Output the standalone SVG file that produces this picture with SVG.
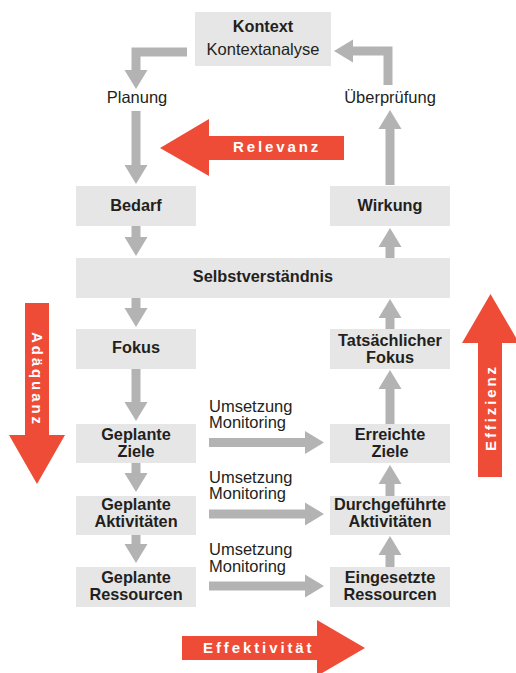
<svg xmlns="http://www.w3.org/2000/svg" width="516" height="673" viewBox="0 0 516 673">
  <style>
    .box { fill: #e6e6e6; }
    .lbl { font-family: "Liberation Sans", Arial, sans-serif; font-size: 16.3px; font-weight: bold; fill: #231f20; text-anchor: middle; }
    .txt { font-family: "Liberation Sans", Arial, sans-serif; font-size: 16.5px; fill: #231f20; }
    .mid { text-anchor: middle; }
    .flow { fill: none; stroke: #b3b3b3; stroke-width: 9; marker-end: url(#head); }
    .big { fill: #ee4c36; }
    .bigtxt { font-family: "Liberation Sans", Arial, sans-serif; font-size: 15px; font-weight: bold; fill: #ffffff; letter-spacing: 2.9px; }
  </style>
  <defs>
    <marker id="head" markerUnits="userSpaceOnUse" markerWidth="21" markerHeight="23" refX="2" refY="11.5" orient="auto" overflow="visible">
      <path d="M0,0 L19,11.5 L0,23 Z" fill="#b3b3b3"/>
    </marker>
  </defs>

  <!-- grey flow arrows -->
  <g id="connectors">
    <polyline class="flow" points="187,52 136,52 136,72"/>
    <line class="flow" x1="136" y1="111" x2="136" y2="167"/>
    <line class="flow" x1="136" y1="226" x2="136" y2="239"/>
    <line class="flow" x1="136" y1="298" x2="136" y2="310"/>
    <line class="flow" x1="136" y1="369" x2="136" y2="404"/>
    <line class="flow" x1="136" y1="463" x2="136" y2="475"/>
    <line class="flow" x1="136" y1="535" x2="136" y2="546"/>

    <line class="flow" x1="390" y1="567" x2="390" y2="553"/>
    <line class="flow" x1="390" y1="496" x2="390" y2="482"/>
    <line class="flow" x1="390" y1="424" x2="390" y2="387"/>
    <line class="flow" x1="390" y1="329" x2="390" y2="316"/>
    <line class="flow" x1="390" y1="258" x2="390" y2="245"/>
    <line class="flow" x1="390" y1="185" x2="390" y2="127"/>
    <polyline class="flow" points="388,85 388,51 351,51"/>

    <line class="flow" x1="209" y1="442.5" x2="307" y2="442.5"/>
    <line class="flow" x1="209" y1="514" x2="307" y2="514"/>
    <line class="flow" x1="209" y1="586" x2="307" y2="586"/>
  </g>

  <!-- boxes -->
  <g id="kontext">
    <rect class="box" x="195" y="12" width="136" height="54"/>
    <text class="lbl" x="263" y="32">Kontext</text>
    <text class="txt mid" x="263" y="55">Kontextanalyse</text>
  </g>
  <g id="planung"><text class="txt mid" x="137" y="103">Planung</text></g>
  <g id="ueberpruefung"><text class="txt mid" x="390" y="103">Überprüfung</text></g>
  <g id="bedarf">
    <rect class="box" x="76" y="186" width="120" height="40"/>
    <text class="lbl" x="136" y="211">Bedarf</text>
  </g>
  <g id="wirkung">
    <rect class="box" x="330" y="186" width="120" height="40"/>
    <text class="lbl" x="390" y="211">Wirkung</text>
  </g>
  <g id="selbstverstaendnis">
    <rect class="box" x="76" y="258" width="374" height="40"/>
    <text class="lbl" x="263" y="282">Selbstverständnis</text>
  </g>
  <g id="fokus">
    <rect class="box" x="76" y="329" width="120" height="40"/>
    <text class="lbl" x="136" y="353">Fokus</text>
  </g>
  <g id="tats-fokus">
    <rect class="box" x="330" y="329" width="120" height="40"/>
    <text class="lbl" x="390" y="346">Tatsächlicher</text>
    <text class="lbl" x="390" y="363">Fokus</text>
  </g>
  <g id="geplante-ziele">
    <rect class="box" x="76" y="424" width="120" height="39"/>
    <text class="lbl" x="136" y="440">Geplante</text>
    <text class="lbl" x="136" y="457">Ziele</text>
  </g>
  <g id="erreichte-ziele">
    <rect class="box" x="330" y="424" width="120" height="39"/>
    <text class="lbl" x="390" y="440">Erreichte</text>
    <text class="lbl" x="390" y="457">Ziele</text>
  </g>
  <g id="geplante-aktivitaeten">
    <rect class="box" x="76" y="496" width="120" height="39"/>
    <text class="lbl" x="136" y="510">Geplante</text>
    <text class="lbl" x="136" y="527">Aktivitäten</text>
  </g>
  <g id="durchgefuehrte-aktivitaeten">
    <rect class="box" x="330" y="496" width="120" height="39"/>
    <text class="lbl" x="390" y="510">Durchgeführte</text>
    <text class="lbl" x="390" y="527">Aktivitäten</text>
  </g>
  <g id="geplante-ressourcen">
    <rect class="box" x="76" y="567" width="120" height="40"/>
    <text class="lbl" x="136" y="582.5">Geplante</text>
    <text class="lbl" x="136" y="599.5">Ressourcen</text>
  </g>
  <g id="eingesetzte-ressourcen">
    <rect class="box" x="330" y="567" width="120" height="40"/>
    <text class="lbl" x="390" y="582.5">Eingesetzte</text>
    <text class="lbl" x="390" y="599.5">Ressourcen</text>
  </g>

  <!-- arrow labels -->
  <g id="umsetzung-1">
    <text class="txt" x="209" y="411.5">Umsetzung</text>
    <text class="txt" x="209" y="428">Monitoring</text>
  </g>
  <g id="umsetzung-2">
    <text class="txt" x="209" y="482.5">Umsetzung</text>
    <text class="txt" x="209" y="499">Monitoring</text>
  </g>
  <g id="umsetzung-3">
    <text class="txt" x="209" y="555">Umsetzung</text>
    <text class="txt" x="209" y="571.5">Monitoring</text>
  </g>

  <!-- red dimension arrows -->
  <g id="relevanz">
    <polygon class="big" points="344,136 209,136 209,119 160,148 209,176 209,160 344,160"/>
    <text class="bigtxt" x="233" y="152">Relevanz</text>
  </g>
  <g id="adaequanz">
    <polygon class="big" points="25,303 49,303 49,435 65,435 37,484 9,435 25,435"/>
    <text class="bigtxt" transform="translate(32,332) rotate(90)">Adäquanz</text>
  </g>
  <g id="effizienz">
    <polygon class="big" points="478,477 502,477 502,343 519,343 490.5,294 462,343 478,343"/>
    <text class="bigtxt" transform="translate(496,451) rotate(-90)">Effizienz</text>
  </g>
  <g id="effektivitaet">
    <polygon class="big" points="182,636 317,636 317,620 365,648 317,676 317,660 182,660"/>
    <text class="bigtxt" x="203" y="653">Effektivität</text>
  </g>
</svg>
